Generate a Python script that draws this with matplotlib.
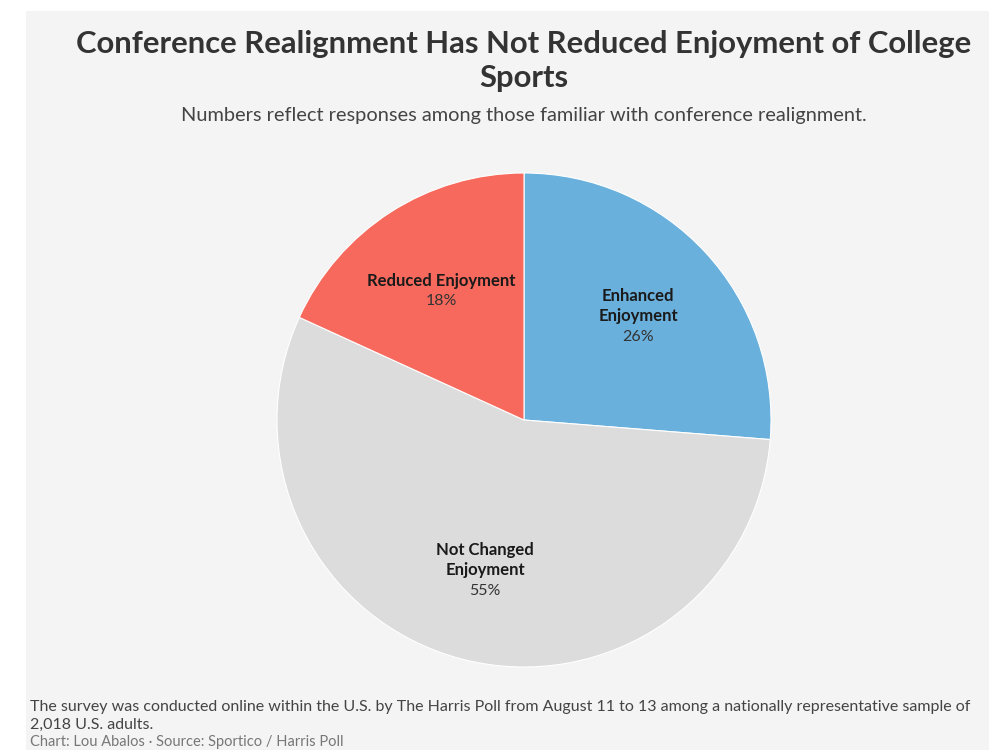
import matplotlib
matplotlib.use("Agg")
import matplotlib.pyplot as plt

plt.rcParams["font.family"] = ["Lato", "DejaVu Sans"]

categories = ["Enhanced\nEnjoyment", "Not Changed\nEnjoyment", "Reduced Enjoyment"]
values = [26, 55, 18]
colors = ["#6ab0dc", "#dcdcdc", "#f7695c"]

title = "Conference Realignment Has Not Reduced Enjoyment of College\nSports"
subtitle = "Numbers reflect responses among those familiar with conference realignment."
note = ("The survey was conducted online within the U.S. by The Harris Poll from August 11 to 13 "
        "among a nationally representative sample of\n2,018 U.S. adults.")
credit = "Chart: Lou Abalos \u00b7 Source: Sportico / Harris Poll"

W, H = 989, 750
fig = plt.figure(figsize=(W / 100, H / 100), dpi=100)
fig.patch.set_facecolor("white")

# light gray card behind the chart
bg = fig.add_axes([26 / W, 0, 1 - 26 / W, 1 - 11 / H], zorder=-5)
bg.set_facecolor("#f4f4f4")
bg.set_xticks([])
bg.set_yticks([])
for s in bg.spines.values():
    s.set_visible(False)

fig.text(524 / W, 1 - 61 / H, title, ha="center", va="center", fontsize=22.3,
         fontweight="bold", color="#333333", linespacing=1.3)
fig.text(524 / W, 1 - 116 / H, subtitle, ha="center", va="center", fontsize=14.4,
         color="#444444")

# pie axes: center (524, 420), radius ~247 px
r = 247
ax = fig.add_axes([(524 - r) / W, 1 - (420 + r) / H, 2 * r / W, 2 * r / H])
wedges, _ = ax.pie(values, colors=colors, startangle=90, counterclock=False,
                   wedgeprops=dict(edgecolor="white", linewidth=0.8))
ax.set_aspect("equal")
ax.set_xlim(-1, 1)
ax.set_ylim(-1, 1)
ax.axis("off")

# label positions in pixels (name center, percent center)
label_px = [(638, 306, 337), (485, 560, 591), (441, 281, 301)]
for cat, v, (x, yn, yp) in zip(categories, values, label_px):
    fig.text(x / W, 1 - yn / H, cat, ha="center", va="center", fontsize=12,
             fontweight="bold", color="#1a1a1a", linespacing=1.3)
    fig.text(x / W, 1 - yp / H, f"{v}%", ha="center", va="center", fontsize=11.5,
             color="#333333")

fig.text(30 / W, 1 - 716 / H, note, ha="left", va="center", fontsize=11.5,
         color="#444444", linespacing=1.32)
fig.text(30 / W, 1 - 749 / H, credit, ha="left", va="bottom", fontsize=10.5,
         color="#777777")

fig.savefig("out.png", dpi=100)
